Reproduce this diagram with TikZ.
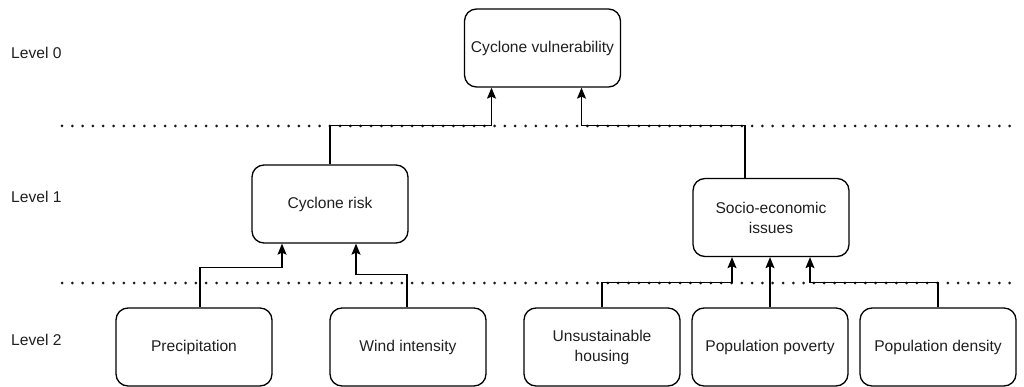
\documentclass[tikz,border=0pt]{standalone}
\usepackage{fontspec}
\setmainfont{Liberation Sans}
\usetikzlibrary{arrows.meta}
\begin{document}
\begin{tikzpicture}[x=1pt,y=-1pt,
  box/.style={draw=black, line width=1.3pt, rounded corners=12pt,
    minimum width=156pt, minimum height=78pt, inner sep=0pt,
    align=center, text=black!88, font=\fontsize{15.6}{20}\selectfont},
  lvl/.style={anchor=west, inner sep=0pt, text=black!88,
    font=\fontsize{15.6}{20}\selectfont},
  arr/.style={draw=black, line width=1.3pt,
    -{Stealth[length=11pt,width=9pt,inset=2pt]}},
  dotline/.style={draw=black!90, line width=3pt, line cap=round,
    dash pattern=on 0pt off 10.3pt}]
\useasboundingbox (0,0) rectangle (1024,387);

% level separators
\coordinate (s0a) at (62,126);  \coordinate (s0b) at (1018,126);
\coordinate (s1a) at (62,283);  \coordinate (s1b) at (1018,283);
\draw[dotline] (s0a) -- (s0b);
\draw[dotline] (s1a) -- (s1b);

% level labels
\node[lvl] (l0) at (11,53)  {Level 0};
\node[lvl] (l1) at (11,197) {Level 1};
\node[lvl] (l2) at (11,340) {Level 2};

% criteria hierarchy
\node[box] (top)   at (542.5,48)  {Cyclone vulnerability};
\node[box] (risk)  at (330,204)   {Cyclone risk};
\node[box] (socio) at (771,217.5) {Socio-economic\\issues};
\node[box] (prec)  at (194,347)   {Precipitation};
\node[box] (wind)  at (408,347)   {Wind intensity};
\node[box] (house) at (602,347)   {Unsustainable\\housing};
\node[box] (pov)   at (770,347)   {Population poverty};
\node[box] (dens)  at (938,347)   {Population density};

% level 2 -> level 1
\draw[arr] ([xshift=6]prec.north) -- ++(0,-40) -| ([xshift=-48]risk.south);
\draw[arr] ([xshift=-1]wind.north) -- ++(0,-33) -| ([xshift=26]risk.south);
\draw[arr] (house.north) -- ++(0,-25) -| ([xshift=-39]socio.south);
\draw[arr] (pov.north) -- (pov.north |- socio.south);
\draw[arr] (dens.north) -- ++(0,-25) -| ([xshift=39]socio.south);

% level 1 -> level 0
\draw[arr] (risk.north) -- ++(0,-39) -| ([xshift=-51]top.south);
\draw[arr] ([xshift=-26]socio.north) -- ++(0,-52.5) -| ([xshift=39]top.south);
\end{tikzpicture}
\end{document}
